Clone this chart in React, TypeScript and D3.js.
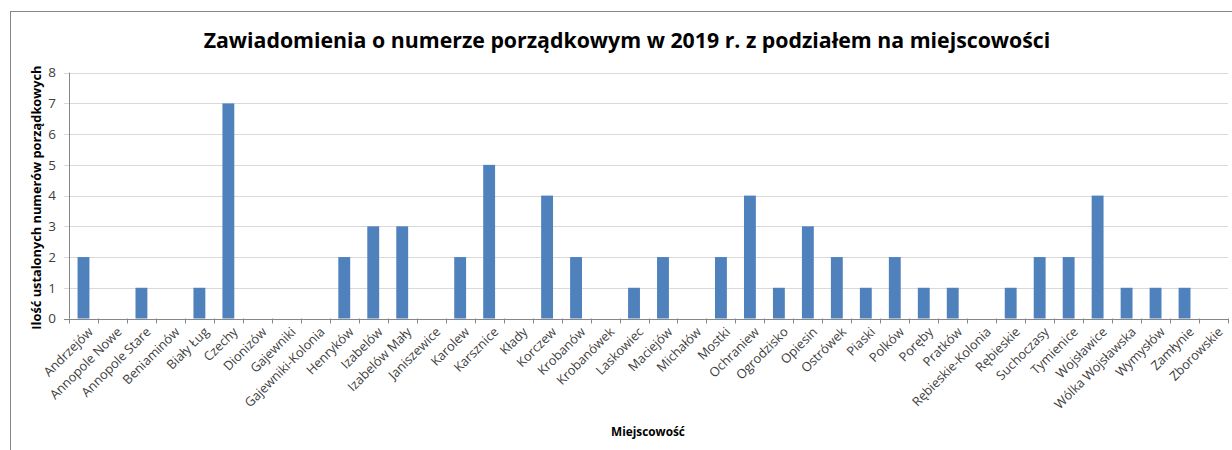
import * as d3 from "d3";

const places = [
  "Andrzejów", "Annopole Nowe", "Annopole Stare", "Beniaminów", "Biały Ług",
  "Czechy", "Dionizów", "Gajewniki", "Gajewniki-Kolonia", "Henryków",
  "Izabelów", "Izabelów Mały", "Janiszewice", "Karolew", "Karsznice",
  "Kłady", "Korczew", "Krobanów", "Krobanówek", "Laskowiec",
  "Maciejów", "Michałów", "Mostki", "Ochraniew", "Ogrodzisko",
  "Opiesin", "Ostrówek", "Piaski", "Polków", "Poręby",
  "Pratków", "Rębieskie-Kolonia", "Rębieskie", "Suchoczasy", "Tymienice",
  "Wojsławice", "Wólka Wojsławska", "Wymysłów", "Zamłynie", "Zborowskie",
];
const counts = [
  2, 0, 1, 0, 1,
  7, 0, 0, 0, 2,
  3, 3, 0, 2, 5,
  0, 4, 2, 0, 1,
  2, 0, 2, 4, 1,
  3, 2, 1, 2, 1,
  1, 0, 1, 2, 2,
  4, 1, 1, 1, 0,
];
const yTicks = [0, 1, 2, 3, 4, 5, 6, 7, 8];

const W = 1232, H = 450;
const left = 69, right = 1228, top = 72.7, bottom = 318.5;
const font = "'Open Sans', 'DejaVu Sans', sans-serif";

export default function App() {
  const x = d3.scaleBand<string>().domain(places).range([left, right]).paddingInner(0.59).paddingOuter(0.295);
  const xb = d3.scaleBand<string>().domain(places).range([left, right]);
  const y = d3.scaleLinear().domain([0, 8]).range([bottom, top]);

  return (
    <svg width={W} height={H} style={{ position: "absolute", left: 0, top: 0, background: "#fff" }}>
      <rect x={10.5} y={11.5} width={1240} height={460} fill="#fff" stroke="#868686" strokeWidth={1} />
      <text x={627} y={48} textAnchor="middle" fontFamily={font} fontWeight="bold" fontSize={21.3} fill="#000">
        Zawiadomienia o numerze porządkowym w 2019 r. z podziałem na miejscowości
      </text>

      {/* grid + y axis */}
      {yTicks.map(t => (
        <g key={t}>
          <line x1={left - 5} x2={right} y1={Math.round(y(t)) + 0.5} y2={Math.round(y(t)) + 0.5}
            stroke={t === 0 ? "#868686" : "#d9d9d9"} strokeWidth={1} />
          <text x={left - 13} y={y(t)} dy="0.35em" textAnchor="end" fontFamily={font} fontSize={13.5} fill="#404040">{t}</text>
        </g>
      ))}
      <line x1={left + 0.5} x2={left + 0.5} y1={top} y2={bottom} stroke="#868686" />

      {/* bars */}
      {places.map((p, i) => (
        <rect key={p} x={x(p)} y={y(counts[i])} width={x.bandwidth()} height={y(0) - y(counts[i])}
          fill="#4f81bd" />
      ))}

      {/* x ticks */}
      {places.concat([""]).map((p, i) => {
        const tx = Math.round(left + i * xb.bandwidth()) + 0.5;
        return <line key={"t" + i} x1={tx} x2={tx} y1={bottom} y2={bottom + 5} stroke="#868686" />;
      })}
      {places.map(p => {
        const cx = (xb(p) as number) + xb.bandwidth() / 2 + 7;
        const cy = bottom + 11;
        return (
          <text key={"l" + p} transform={`translate(${cx},${cy}) rotate(-45)`} textAnchor="end"
            dy="0.35em" fontFamily={font} fontSize={12.8} fill="#404040">{p}</text>
        );
      })}

      <text transform={`translate(41,${(top + bottom) / 2 + 2}) rotate(-90)`} textAnchor="middle"
        fontFamily={font} fontWeight="bold" fontSize={12.8} fill="#000">Ilość ustalonych numerów porządkowych</text>
      <text x={648} y={436} textAnchor="middle" fontFamily={font} fontWeight="bold" fontSize={11.8} fill="#000">Miejscowość</text>
    </svg>
  );
}
